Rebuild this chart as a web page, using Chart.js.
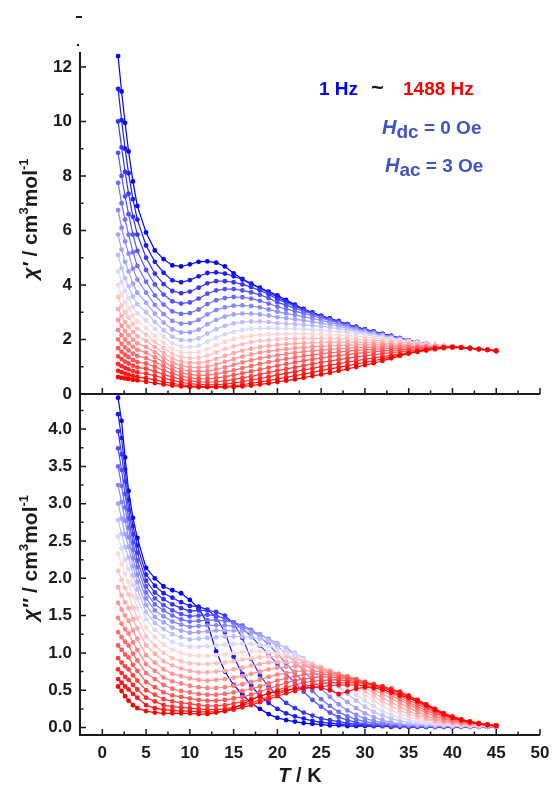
<!DOCTYPE html>
<html lang="en">
<head>
<meta charset="UTF-8" />
<title>AC susceptibility, 1 Hz to 1488 Hz</title>
<script src="https://cdn.jsdelivr.net/npm/chart.js"></script>
<style>
  * { margin: 0; padding: 0; box-sizing: border-box; }
  body { background: #fff; width: 555px; height: 790px; overflow: hidden; }
  .wrap { position: relative; width: 555px; height: 790px; }
  canvas { position: absolute; left: 0; }
  #chiReal { top: 0; }
  #chiImag { top: 380px; }
</style>
</head>
<body>
<div class="wrap">
  <canvas id="chiReal" width="555" height="400"></canvas>
  <canvas id="chiImag" width="555" height="410"></canvas>
</div>
<script>
// temperatures (K), shared by every frequency
const temps = [1.8, 2.2, 2.6, 3, 3.5, 4, 5, 6, 7, 8, 9, 10, 11, 12, 13, 14, 15, 16, 17, 18, 19, 20, 21, 22, 23, 24,
  25, 26, 27, 28, 29, 30, 31, 32, 33, 34, 35, 36, 37, 38, 39, 40, 41, 42, 43, 44, 45];

const xTicks = [0, 5, 10, 15, 20, 25, 30, 35, 40, 45, 50];
const yTicksReal = [0, 2, 4, 6, 8, 10, 12];
const yTicksImag = [0, 0.5, 1, 1.5, 2, 2.5, 3, 3.5, 4];

// chi' (cm3/mol), lowest frequency first
const re01 = [12.4, 11.1, 9.95, 8.9, 7.8, 6.9, 5.93, 5.27, 4.95, 4.72, 4.68, 4.76, 4.85, 4.87, 4.82, 4.68,
  4.43, 4.22, 4.05, 3.9, 3.76, 3.62, 3.45, 3.28, 3.12, 2.99, 2.87, 2.77, 2.67, 2.56, 2.46,
  2.37, 2.29, 2.21, 2.13, 2.05, 1.97, 1.9, 1.84, 1.79, 1.76, 1.74, 1.71, 1.68, 1.65, 1.62, 1.58];
const re02 = [11.2, 10.05, 9.0, 8.1, 7.15, 6.4, 5.45, 4.85, 4.45, 4.17, 4.1, 4.18, 4.32, 4.44, 4.46, 4.42,
  4.32, 4.2, 4.04, 3.88, 3.72, 3.55, 3.4, 3.26, 3.11, 2.98, 2.87, 2.77, 2.67, 2.56, 2.46,
  2.37, 2.29, 2.21, 2.13, 2.05, 1.97, 1.9, 1.84, 1.79, 1.76, 1.74, 1.71, 1.68, 1.65, 1.62, 1.58];
const re03 = [10.0, 9.05, 8.15, 7.35, 6.5, 5.85, 5.0, 4.42, 4.03, 3.78, 3.7, 3.76, 3.9, 4.06, 4.14, 4.14,
  4.1, 4.02, 3.92, 3.8, 3.66, 3.48, 3.35, 3.22, 3.09, 2.97, 2.86, 2.76, 2.66, 2.56, 2.46,
  2.36, 2.28, 2.2, 2.12, 2.05, 1.97, 1.9, 1.84, 1.79, 1.76, 1.74, 1.71, 1.68, 1.65, 1.62, 1.58];
const re04 = [8.85, 8.0, 7.25, 6.6, 5.85, 5.25, 4.55, 4.02, 3.65, 3.4, 3.32, 3.36, 3.5, 3.68, 3.8, 3.85,
  3.85, 3.8, 3.73, 3.64, 3.52, 3.36, 3.26, 3.15, 3.04, 2.94, 2.83, 2.74, 2.64, 2.54, 2.45,
  2.35, 2.27, 2.19, 2.12, 2.04, 1.97, 1.9, 1.84, 1.79, 1.76, 1.74, 1.71, 1.68, 1.65, 1.62, 1.58];
const re05 = [7.75, 7.0, 6.4, 5.85, 5.2, 4.7, 4.12, 3.62, 3.28, 3.03, 2.94, 2.97, 3.1, 3.3, 3.44, 3.52,
  3.56, 3.55, 3.5, 3.42, 3.32, 3.2, 3.12, 3.04, 2.96, 2.87, 2.78, 2.7, 2.61, 2.51, 2.42,
  2.33, 2.25, 2.18, 2.1, 2.03, 1.96, 1.9, 1.84, 1.79, 1.76, 1.74, 1.71, 1.68, 1.65, 1.62, 1.58];
const re06 = [6.75, 6.1, 5.6, 5.15, 4.6, 4.2, 3.72, 3.27, 2.93, 2.68, 2.58, 2.6, 2.72, 2.92, 3.08, 3.18,
  3.24, 3.25, 3.23, 3.18, 3.1, 3.02, 2.96, 2.9, 2.84, 2.77, 2.7, 2.63, 2.56, 2.47, 2.39,
  2.31, 2.24, 2.17, 2.09, 2.02, 1.96, 1.9, 1.84, 1.79, 1.76, 1.74, 1.71, 1.68, 1.65, 1.62, 1.58];
const re07 = [5.85, 5.3, 4.85, 4.5, 4.05, 3.72, 3.35, 2.95, 2.62, 2.37, 2.26, 2.26, 2.36, 2.56, 2.72, 2.84,
  2.92, 2.95, 2.95, 2.92, 2.88, 2.82, 2.78, 2.74, 2.7, 2.65, 2.6, 2.55, 2.49, 2.42, 2.35,
  2.28, 2.22, 2.15, 2.08, 2.01, 1.95, 1.89, 1.84, 1.79, 1.76, 1.74, 1.71, 1.68, 1.65, 1.62, 1.58];
const re08 = [5.1, 4.62, 4.25, 3.95, 3.58, 3.3, 3.0, 2.65, 2.34, 2.1, 1.98, 1.97, 2.04, 2.22, 2.38, 2.5,
  2.59, 2.64, 2.66, 2.66, 2.64, 2.6, 2.58, 2.56, 2.54, 2.51, 2.48, 2.44, 2.4, 2.35, 2.29,
  2.24, 2.18, 2.12, 2.06, 2.0, 1.94, 1.89, 1.84, 1.79, 1.76, 1.74, 1.71, 1.68, 1.65, 1.62, 1.58];
const re09 = [4.5, 4.1, 3.78, 3.52, 3.2, 2.96, 2.7, 2.38, 2.1, 1.86, 1.74, 1.72, 1.77, 1.92, 2.07, 2.19,
  2.28, 2.35, 2.39, 2.41, 2.42, 2.41, 2.4, 2.39, 2.38, 2.36, 2.34, 2.32, 2.29, 2.26, 2.22,
  2.18, 2.13, 2.08, 2.03, 1.98, 1.93, 1.88, 1.83, 1.79, 1.76, 1.74, 1.71, 1.68, 1.65, 1.62, 1.58];
const re10 = [4.0, 3.66, 3.38, 3.15, 2.88, 2.67, 2.43, 2.14, 1.88, 1.66, 1.54, 1.51, 1.54, 1.65, 1.79, 1.91,
  2.01, 2.08, 2.13, 2.17, 2.19, 2.2, 2.21, 2.21, 2.21, 2.2, 2.19, 2.18, 2.16, 2.14, 2.12,
  2.09, 2.06, 2.03, 1.99, 1.95, 1.91, 1.86, 1.82, 1.78, 1.76, 1.74, 1.71, 1.68, 1.65, 1.62, 1.58];
const re11 = [3.55, 3.25, 3.0, 2.8, 2.57, 2.39, 2.18, 1.92, 1.68, 1.47, 1.36, 1.32, 1.33, 1.41, 1.53, 1.65,
  1.75, 1.83, 1.9, 1.95, 1.98, 2.0, 2.02, 2.03, 2.04, 2.04, 2.04, 2.04, 2.03, 2.02, 2.01,
  1.99, 1.97, 1.95, 1.93, 1.9, 1.87, 1.84, 1.8, 1.77, 1.75, 1.74, 1.71, 1.68, 1.65, 1.62, 1.58];
const re12 = [3.12, 2.86, 2.64, 2.47, 2.27, 2.12, 1.95, 1.72, 1.5, 1.3, 1.19, 1.14, 1.14, 1.19, 1.29, 1.4,
  1.5, 1.59, 1.66, 1.72, 1.77, 1.8, 1.83, 1.85, 1.87, 1.88, 1.89, 1.9, 1.9, 1.9, 1.9,
  1.89, 1.88, 1.87, 1.85, 1.83, 1.81, 1.79, 1.77, 1.75, 1.74, 1.73, 1.71, 1.68, 1.65, 1.62, 1.58];
const re13 = [2.72, 2.5, 2.31, 2.16, 1.99, 1.86, 1.73, 1.53, 1.33, 1.15, 1.04, 0.98, 0.97, 1.0, 1.08, 1.18,
  1.28, 1.37, 1.45, 1.52, 1.57, 1.61, 1.65, 1.68, 1.71, 1.73, 1.75, 1.77, 1.78, 1.79, 1.8,
  1.8, 1.8, 1.8, 1.79, 1.78, 1.77, 1.76, 1.75, 1.74, 1.73, 1.73, 1.71, 1.68, 1.65, 1.62, 1.58];
const re14 = [2.35, 2.16, 2.0, 1.87, 1.73, 1.62, 1.52, 1.35, 1.17, 1.01, 0.9, 0.84, 0.82, 0.84, 0.9, 0.98,
  1.07, 1.16, 1.24, 1.31, 1.37, 1.42, 1.47, 1.51, 1.55, 1.58, 1.61, 1.64, 1.66, 1.68, 1.7,
  1.71, 1.72, 1.73, 1.73, 1.73, 1.73, 1.73, 1.73, 1.73, 1.73, 1.73, 1.71, 1.68, 1.65, 1.62, 1.58];
const re15 = [2.0, 1.84, 1.71, 1.6, 1.48, 1.39, 1.32, 1.18, 1.02, 0.88, 0.78, 0.71, 0.68, 0.69, 0.73, 0.8,
  0.87, 0.95, 1.03, 1.1, 1.17, 1.23, 1.29, 1.34, 1.39, 1.43, 1.47, 1.51, 1.54, 1.57, 1.6,
  1.62, 1.64, 1.66, 1.67, 1.68, 1.69, 1.7, 1.71, 1.72, 1.72, 1.73, 1.71, 1.68, 1.65, 1.62, 1.58];
const re16 = [1.68, 1.55, 1.44, 1.35, 1.25, 1.17, 1.12, 1.0, 0.87, 0.75, 0.66, 0.59, 0.56, 0.56, 0.58, 0.63,
  0.69, 0.76, 0.83, 0.9, 0.97, 1.04, 1.1, 1.16, 1.22, 1.27, 1.32, 1.37, 1.41, 1.45, 1.49,
  1.52, 1.55, 1.58, 1.6, 1.62, 1.64, 1.66, 1.68, 1.7, 1.71, 1.72, 1.7, 1.68, 1.65, 1.62, 1.58];
const re17 = [1.38, 1.28, 1.19, 1.12, 1.04, 0.98, 0.93, 0.83, 0.72, 0.62, 0.54, 0.48, 0.45, 0.44, 0.45, 0.48,
  0.53, 0.59, 0.65, 0.72, 0.79, 0.86, 0.92, 0.98, 1.04, 1.1, 1.16, 1.21, 1.26, 1.31, 1.36,
  1.4, 1.44, 1.48, 1.52, 1.55, 1.58, 1.61, 1.64, 1.67, 1.7, 1.72, 1.7, 1.68, 1.65, 1.62, 1.58];
const re18 = [1.1, 1.02, 0.96, 0.9, 0.84, 0.79, 0.75, 0.67, 0.58, 0.5, 0.43, 0.38, 0.35, 0.34, 0.34, 0.36,
  0.4, 0.45, 0.51, 0.57, 0.63, 0.7, 0.76, 0.82, 0.88, 0.94, 1.0, 1.06, 1.11, 1.17, 1.22,
  1.27, 1.32, 1.37, 1.42, 1.47, 1.52, 1.56, 1.6, 1.64, 1.68, 1.71, 1.7, 1.68, 1.65, 1.62, 1.58];
const re19 = [0.85, 0.8, 0.75, 0.71, 0.66, 0.62, 0.58, 0.52, 0.45, 0.39, 0.34, 0.3, 0.28, 0.27, 0.27, 0.28,
  0.3, 0.34, 0.39, 0.44, 0.49, 0.55, 0.61, 0.67, 0.73, 0.79, 0.86, 0.92, 0.98, 1.04, 1.1,
  1.16, 1.22, 1.29, 1.36, 1.43, 1.5, 1.57, 1.62, 1.67, 1.7, 1.72, 1.7, 1.68, 1.65, 1.62, 1.58];
const re20 = [0.62, 0.6, 0.57, 0.55, 0.52, 0.5, 0.45, 0.4, 0.35, 0.31, 0.28, 0.26, 0.25, 0.25, 0.25, 0.25,
  0.26, 0.28, 0.31, 0.35, 0.39, 0.44, 0.49, 0.54, 0.6, 0.66, 0.72, 0.78, 0.85, 0.92, 0.99,
  1.06, 1.13, 1.22, 1.31, 1.4, 1.48, 1.55, 1.61, 1.66, 1.7, 1.72, 1.7, 1.68, 1.65, 1.62, 1.58];

// chi'' (cm3/mol), lowest frequency first
const im01 = [4.42, 4.11, 3.62, 3.17, 2.81, 2.54, 2.14, 2.0, 1.89, 1.84, 1.8, 1.71, 1.6, 1.4, 1.02, 0.75,
  0.57, 0.44, 0.33, 0.25, 0.18, 0.13, 0.1, 0.08, 0.06, 0.05, 0.04, 0.03, 0.03, 0.02, 0.02,
  0.02, 0.02, 0.02, 0.01, 0.01, 0.01, 0.01, 0.01, 0.01, 0.01, 0.01, 0.01, 0.01, 0.01, 0.01, 0.01];
const im02 = [4.2, 3.88, 3.46, 3.05, 2.7, 2.44, 2.05, 1.9, 1.8, 1.74, 1.68, 1.63, 1.62, 1.58, 1.48, 1.28,
  0.95, 0.72, 0.56, 0.43, 0.33, 0.25, 0.19, 0.15, 0.12, 0.09, 0.07, 0.06, 0.05, 0.04, 0.03,
  0.03, 0.02, 0.02, 0.02, 0.02, 0.01, 0.01, 0.01, 0.01, 0.01, 0.01, 0.01, 0.01, 0.01, 0.01, 0.01];
const im03 = [3.97, 3.66, 3.3, 2.92, 2.59, 2.34, 1.97, 1.81, 1.72, 1.65, 1.6, 1.56, 1.57, 1.57, 1.55, 1.5,
  1.4, 1.2, 0.92, 0.7, 0.55, 0.43, 0.33, 0.26, 0.2, 0.16, 0.12, 0.1, 0.08, 0.06, 0.05,
  0.04, 0.03, 0.03, 0.02, 0.02, 0.02, 0.02, 0.01, 0.01, 0.01, 0.01, 0.01, 0.01, 0.01, 0.01, 0.01];
const im04 = [3.74, 3.45, 3.13, 2.8, 2.48, 2.24, 1.89, 1.73, 1.64, 1.57, 1.52, 1.49, 1.5, 1.51, 1.5, 1.46,
  1.41, 1.33, 1.22, 1.1, 0.98, 0.85, 0.72, 0.6, 0.48, 0.37, 0.28, 0.2, 0.14, 0.1, 0.07,
  0.05, 0.04, 0.03, 0.03, 0.02, 0.02, 0.02, 0.02, 0.01, 0.01, 0.01, 0.01, 0.01, 0.01, 0.01, 0.01];
const im05 = [3.5, 3.24, 2.95, 2.68, 2.38, 2.15, 1.81, 1.65, 1.57, 1.5, 1.45, 1.42, 1.43, 1.44, 1.44, 1.43,
  1.41, 1.37, 1.31, 1.22, 1.11, 0.99, 0.86, 0.73, 0.61, 0.49, 0.38, 0.29, 0.21, 0.15, 0.11,
  0.08, 0.06, 0.05, 0.04, 0.03, 0.03, 0.02, 0.02, 0.02, 0.02, 0.01, 0.01, 0.01, 0.01, 0.01, 0.01];
const im06 = [3.25, 3.02, 2.77, 2.55, 2.27, 2.05, 1.73, 1.57, 1.49, 1.42, 1.38, 1.35, 1.36, 1.37, 1.37, 1.37,
  1.36, 1.34, 1.3, 1.25, 1.18, 1.09, 0.99, 0.88, 0.76, 0.64, 0.52, 0.41, 0.31, 0.23, 0.17,
  0.12, 0.09, 0.07, 0.05, 0.04, 0.03, 0.03, 0.02, 0.02, 0.02, 0.02, 0.02, 0.01, 0.01, 0.01, 0.01];
const im07 = [3.0, 2.8, 2.59, 2.42, 2.16, 1.95, 1.64, 1.48, 1.41, 1.34, 1.3, 1.27, 1.28, 1.29, 1.3, 1.3,
  1.3, 1.29, 1.27, 1.24, 1.19, 1.13, 1.06, 0.97, 0.87, 0.76, 0.65, 0.54, 0.43, 0.34, 0.26,
  0.19, 0.14, 0.1, 0.07, 0.05, 0.04, 0.03, 0.03, 0.02, 0.02, 0.02, 0.02, 0.02, 0.01, 0.01, 0.01];
const im08 = [2.78, 2.6, 2.42, 2.28, 2.04, 1.85, 1.55, 1.4, 1.32, 1.25, 1.21, 1.18, 1.19, 1.2, 1.21, 1.22,
  1.22, 1.22, 1.21, 1.19, 1.16, 1.12, 1.07, 1.0, 0.93, 0.84, 0.75, 0.65, 0.55, 0.45, 0.36,
  0.28, 0.21, 0.16, 0.12, 0.09, 0.07, 0.05, 0.04, 0.03, 0.03, 0.02, 0.02, 0.02, 0.02, 0.02, 0.01];
const im09 = [2.56, 2.4, 2.25, 2.12, 1.91, 1.73, 1.45, 1.31, 1.22, 1.15, 1.11, 1.08, 1.08, 1.09, 1.1, 1.11,
  1.12, 1.12, 1.12, 1.11, 1.09, 1.06, 1.02, 0.98, 0.92, 0.86, 0.79, 0.71, 0.62, 0.53, 0.44,
  0.36, 0.29, 0.22, 0.17, 0.13, 0.1, 0.08, 0.06, 0.05, 0.04, 0.03, 0.03, 0.02, 0.02, 0.02, 0.02];
const im10 = [2.33, 2.19, 2.06, 1.95, 1.76, 1.6, 1.34, 1.21, 1.11, 1.04, 1.0, 0.97, 0.96, 0.96, 0.97, 0.98,
  1.0, 1.01, 1.02, 1.02, 1.01, 0.99, 0.97, 0.94, 0.9, 0.85, 0.8, 0.74, 0.67, 0.59, 0.51,
  0.43, 0.36, 0.29, 0.23, 0.18, 0.14, 0.11, 0.08, 0.06, 0.05, 0.04, 0.03, 0.03, 0.02, 0.02, 0.02];
const im11 = [2.1, 1.98, 1.87, 1.78, 1.61, 1.47, 1.22, 1.1, 1.0, 0.93, 0.89, 0.86, 0.85, 0.85, 0.86, 0.87,
  0.89, 0.91, 0.93, 0.94, 0.95, 0.95, 0.94, 0.92, 0.89, 0.85, 0.81, 0.76, 0.7, 0.63, 0.56,
  0.49, 0.42, 0.35, 0.29, 0.23, 0.18, 0.14, 0.11, 0.08, 0.06, 0.05, 0.04, 0.03, 0.03, 0.02, 0.02];
const im12 = [1.88, 1.77, 1.68, 1.6, 1.45, 1.33, 1.1, 0.99, 0.89, 0.83, 0.79, 0.76, 0.74, 0.74, 0.75, 0.76,
  0.78, 0.8, 0.83, 0.85, 0.87, 0.88, 0.88, 0.87, 0.86, 0.83, 0.8, 0.76, 0.71, 0.66, 0.6,
  0.53, 0.47, 0.4, 0.34, 0.28, 0.22, 0.17, 0.13, 0.1, 0.08, 0.06, 0.05, 0.04, 0.03, 0.03, 0.02];
const im13 = [1.67, 1.58, 1.5, 1.43, 1.3, 1.19, 0.97, 0.87, 0.78, 0.72, 0.69, 0.66, 0.64, 0.63, 0.64, 0.65,
  0.67, 0.69, 0.72, 0.75, 0.78, 0.8, 0.81, 0.82, 0.82, 0.81, 0.79, 0.76, 0.72, 0.68, 0.63,
  0.57, 0.51, 0.45, 0.39, 0.33, 0.27, 0.21, 0.16, 0.12, 0.09, 0.07, 0.06, 0.05, 0.04, 0.03, 0.03];
const im14 = [1.47, 1.39, 1.32, 1.26, 1.14, 1.04, 0.85, 0.76, 0.67, 0.62, 0.59, 0.56, 0.54, 0.53, 0.53, 0.54,
  0.56, 0.58, 0.61, 0.64, 0.68, 0.71, 0.73, 0.75, 0.76, 0.76, 0.75, 0.74, 0.72, 0.69, 0.65,
  0.6, 0.55, 0.49, 0.43, 0.37, 0.31, 0.25, 0.2, 0.15, 0.11, 0.09, 0.07, 0.06, 0.05, 0.04, 0.03];
const im15 = [1.28, 1.21, 1.15, 1.1, 0.99, 0.9, 0.73, 0.65, 0.57, 0.52, 0.49, 0.47, 0.45, 0.44, 0.44, 0.45,
  0.47, 0.49, 0.52, 0.55, 0.59, 0.63, 0.66, 0.69, 0.71, 0.72, 0.72, 0.71, 0.7, 0.68, 0.65,
  0.61, 0.57, 0.52, 0.46, 0.4, 0.34, 0.28, 0.23, 0.18, 0.13, 0.1, 0.08, 0.07, 0.05, 0.04, 0.03];
const im16 = [1.1, 1.04, 0.98, 0.94, 0.84, 0.76, 0.61, 0.54, 0.47, 0.43, 0.41, 0.39, 0.37, 0.36, 0.36, 0.37,
  0.39, 0.41, 0.44, 0.48, 0.52, 0.56, 0.6, 0.63, 0.65, 0.67, 0.68, 0.68, 0.67, 0.66, 0.64,
  0.61, 0.58, 0.54, 0.49, 0.43, 0.37, 0.31, 0.26, 0.2, 0.15, 0.12, 0.09, 0.07, 0.06, 0.04, 0.03];
const im17 = [0.93, 0.87, 0.82, 0.78, 0.7, 0.63, 0.5, 0.44, 0.38, 0.35, 0.33, 0.32, 0.3, 0.29, 0.29, 0.3,
  0.32, 0.35, 0.38, 0.42, 0.46, 0.5, 0.54, 0.57, 0.6, 0.62, 0.63, 0.64, 0.64, 0.63, 0.62,
  0.6, 0.58, 0.55, 0.51, 0.46, 0.4, 0.34, 0.28, 0.22, 0.17, 0.13, 0.1, 0.08, 0.06, 0.04, 0.03];
const im18 = [0.78, 0.73, 0.68, 0.64, 0.57, 0.51, 0.4, 0.35, 0.3, 0.28, 0.27, 0.26, 0.25, 0.24, 0.24, 0.25,
  0.27, 0.3, 0.33, 0.37, 0.41, 0.45, 0.49, 0.52, 0.55, 0.57, 0.59, 0.6, 0.6, 0.6, 0.6,
  0.59, 0.57, 0.55, 0.52, 0.48, 0.43, 0.37, 0.31, 0.25, 0.19, 0.14, 0.11, 0.08, 0.06, 0.04, 0.03];
const im19 = [0.65, 0.6, 0.55, 0.51, 0.45, 0.4, 0.3, 0.26, 0.24, 0.23, 0.22, 0.22, 0.21, 0.21, 0.21, 0.22,
  0.24, 0.27, 0.3, 0.34, 0.38, 0.42, 0.46, 0.49, 0.52, 0.54, 0.55, 0.56, 0.57, 0.57, 0.57,
  0.56, 0.55, 0.53, 0.5, 0.47, 0.42, 0.37, 0.31, 0.25, 0.19, 0.15, 0.11, 0.08, 0.06, 0.04, 0.03];
const im20 = [0.55, 0.49, 0.42, 0.36, 0.3, 0.26, 0.22, 0.2, 0.19, 0.19, 0.19, 0.19, 0.18, 0.18, 0.2, 0.22,
  0.26, 0.31, 0.37, 0.42, 0.46, 0.48, 0.5, 0.52, 0.53, 0.54, 0.53, 0.5, 0.45, 0.48, 0.52,
  0.54, 0.53, 0.51, 0.47, 0.43, 0.4, 0.35, 0.3, 0.24, 0.18, 0.13, 0.1, 0.07, 0.05, 0.03, 0.02];

const realSeries = [re01, re02, re03, re04, re05, re06, re07, re08, re09, re10,
  re11, re12, re13, re14, re15, re16, re17, re18, re19, re20];
const imagSeries = [im01, im02, im03, im04, im05, im06, im07, im08, im09, im10,
  im11, im12, im13, im14, im15, im16, im17, im18, im19, im20];

const FONT = "'Liberation Sans', Arial, sans-serif";
const INK = '#1a1a1a';
Chart.defaults.font.family = FONT;

// blue -> pale -> red, lowest frequency blue
function seriesColor(i, n) {
  const t = i / (n - 1), mid = 0.45;
  if (t <= mid) {
    const c = Math.round(232 * (t / mid));
    return `rgb(${c},${c},255)`;
  }
  const c = Math.round(225 * (1 - (t - mid) / (1 - mid)));
  return `rgb(255,${c},${c})`;
}

function buildSets(list) {
  return list.map((vals, i) => {
    const c = seriesColor(i, list.length);
    return {
      data: temps.map((t, j) => ({ x: t, y: vals[j] })),
      showLine: true,
      borderColor: c,
      backgroundColor: c,
      pointBackgroundColor: c,
      pointBorderColor: c,
      pointBorderWidth: 0,
      pointRadius: 2.4,
      borderWidth: 1.2,
      order: list.length - i   // high frequency drawn on top
    };
  });
}

function minorOf(major) {
  const h = (major[1] - major[0]) / 2;
  return [major[0] - h, ...major.map(v => v + h)];
}

// text made of pieces with their own font and vertical shift, centred on (x, y)
function drawParts(ctx, x, y, parts, rotate, align) {
  ctx.save();
  ctx.translate(x, y);
  if (rotate) ctx.rotate(-Math.PI / 2);
  ctx.textBaseline = 'alphabetic';
  ctx.textAlign = 'left';
  let w = 0;
  parts.forEach(p => { ctx.font = p.f; p.w = ctx.measureText(p.t).width; w += p.w; });
  let cx = align === 'left' ? 0 : -w / 2;
  parts.forEach(p => {
    ctx.font = p.f;
    ctx.fillStyle = p.c || INK;
    ctx.fillText(p.t, cx, p.dy || 0);
    cx += p.w;
  });
  ctx.restore();
}

// inward ticks and the two axis lines
function axisFrame(yMajor) {
  return {
    id: 'axisFrame',
    afterDraw(chart) {
      const { ctx, chartArea: a } = chart;
      const xs = chart.scales.x, ys = chart.scales.y;
      ctx.save();
      ctx.strokeStyle = INK;
      ctx.lineWidth = 1.5;
      ctx.beginPath();
      [[xTicks, 6], [minorOf(xTicks), 3.5]].forEach(([vals, len]) => {
        vals.forEach(v => {
          const px = xs.getPixelForValue(v);
          if (px > a.left + 3 && px <= a.right + 1) { ctx.moveTo(px, a.bottom); ctx.lineTo(px, a.bottom - len); }
        });
      });
      [[yMajor, 6], [minorOf(yMajor), 3.5]].forEach(([vals, len]) => {
        vals.forEach(v => {
          const py = ys.getPixelForValue(v);
          if (py >= a.top - 1 && py < a.bottom - 3) { ctx.moveTo(a.left, py); ctx.lineTo(a.left + len, py); }
        });
      });
      ctx.stroke();
      ctx.lineWidth = 2;
      ctx.beginPath();
      ctx.moveTo(a.left, a.top);
      ctx.lineTo(a.left, a.bottom);
      ctx.lineTo(a.right, a.bottom);
      ctx.stroke();
      ctx.restore();
    }
  };
}

const tickFont = { family: FONT, size: 17, weight: 'bold' };

function yScale(min, max, ticks, fmt) {
  return {
    type: 'linear', min, max,
    grid: { display: false, drawTicks: false },
    border: { display: false },
    ticks: { color: INK, font: tickFont, padding: 8, callback: fmt },
    afterBuildTicks: s => { s.ticks = ticks.map(v => ({ value: v })); },
    afterFit: s => { s.width = 80; s.paddingTop = 0; s.paddingBottom = 0; }
  };
}

const baseOpts = {
  responsive: false,
  animation: false,
  events: [],
  plugins: { legend: { display: false }, tooltip: { enabled: false } }
};

const axisTitle = [
  { t: ' / cm', f: `bold 21px ${FONT}` },
  { t: '3', f: `bold 13px ${FONT}`, dy: -9 },
  { t: 'mol', f: `bold 21px ${FONT}` },
  { t: '-1', f: `bold 13px ${FONT}`, dy: -9 }
];
const fieldColor = '#4152c4';

new Chart(document.getElementById('chiReal'), {
  type: 'scatter',
  data: { datasets: buildSets(realSeries) },
  options: {
    ...baseOpts,
    layout: { padding: { top: 52, right: 15, bottom: 6, left: 0 } },
    scales: {
      x: { type: 'linear', min: -2.55, max: 50, display: false },
      y: yScale(0, 12.55, yTicksReal, v => v)
    }
  },
  plugins: [axisFrame(yTicksReal), {
    id: 'realText',
    afterDraw(chart) {
      const ctx = chart.ctx;
      ctx.save();
      ctx.fillStyle = INK;
      ctx.fillRect(76, 16, 6, 2);
      ctx.fillRect(77, 44, 2, 2);
      ctx.restore();
      drawParts(ctx, 37, 219, [{ t: 'χ′', f: `italic bold 21px ${FONT}` }, ...axisTitle], true);
      const big = `bold 19px ${FONT}`;
      drawParts(ctx, 319, 95, [{ t: '1 Hz', f: big, c: '#0000ff' }], false, 'left');
      drawParts(ctx, 371, 95, [{ t: '~', f: `bold 22px ${FONT}` }], false, 'left');
      drawParts(ctx, 403, 95, [{ t: '1488 Hz', f: big, c: '#ff0000' }], false, 'left');
      drawParts(ctx, 382, 134, [
        { t: 'H', f: `italic bold 20px ${FONT}`, c: fieldColor },
        { t: 'dc', f: big, c: fieldColor, dy: 4 },
        { t: ' = 0 Oe', f: big, c: fieldColor }
      ], false, 'left');
      drawParts(ctx, 385, 172, [
        { t: 'H', f: `italic bold 20px ${FONT}`, c: fieldColor },
        { t: 'ac', f: big, c: fieldColor, dy: 4 },
        { t: ' = 3 Oe', f: big, c: fieldColor }
      ], false, 'left');
    }
  }]
});

new Chart(document.getElementById('chiImag'), {
  type: 'scatter',
  data: { datasets: buildSets(imagSeries) },
  options: {
    ...baseOpts,
    layout: { padding: { top: 14, right: 15, bottom: 0, left: 0 } },
    scales: {
      x: {
        type: 'linear', min: -2.55, max: 50,
        grid: { display: false, drawTicks: false },
        border: { display: false },
        ticks: { color: INK, font: tickFont, padding: 8, maxRotation: 0 },
        afterBuildTicks: s => { s.ticks = xTicks.map(v => ({ value: v })); },
        afterFit: s => { s.height = 55; s.paddingLeft = 0; s.paddingRight = 0; }
      },
      y: yScale(-0.1, 4.47, yTicksImag, v => v.toFixed(1))
    }
  },
  plugins: [axisFrame(yTicksImag), {
    id: 'imagText',
    afterDraw(chart) {
      const ctx = chart.ctx;
      drawParts(ctx, 37, 178, [{ t: 'χ″', f: `italic bold 21px ${FONT}` }, ...axisTitle], true);
      drawParts(ctx, 300, 402, [
        { t: 'T', f: `italic bold 20px ${FONT}` },
        { t: ' / K', f: `bold 20px ${FONT}` }
      ], false);
    }
  }]
});
</script>
</body>
</html>
